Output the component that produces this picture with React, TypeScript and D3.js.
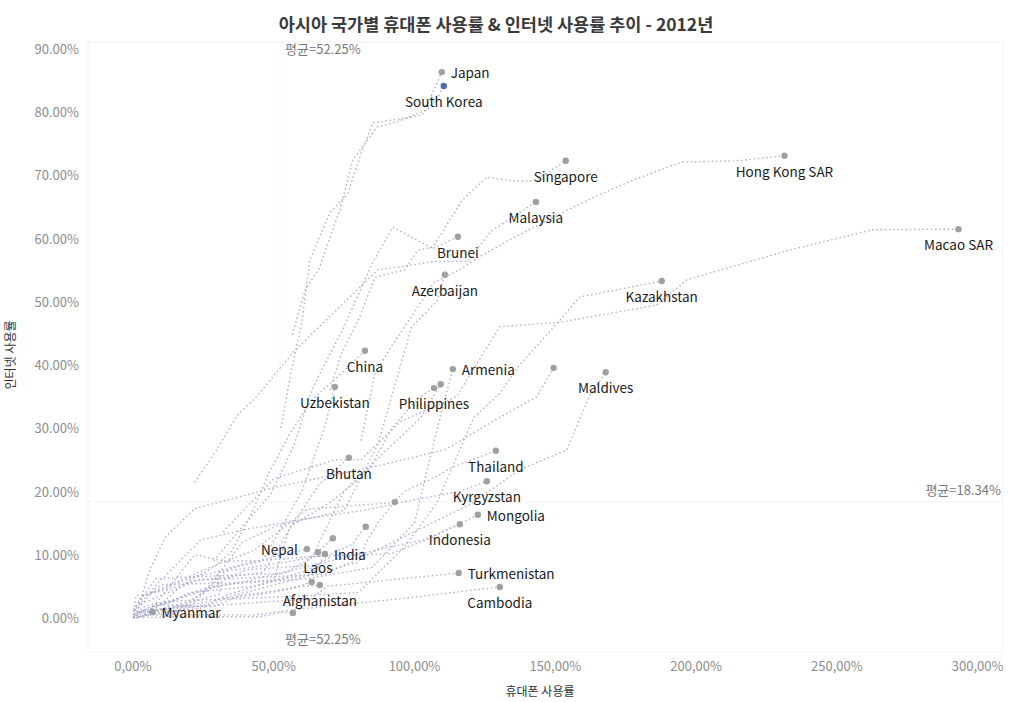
import React from "react";
import * as d3 from "d3";

// ---- data: [mobile %, internet %] trail per country, last point = 2012 ----
const countries = [
  "Japan", "South Korea", "Singapore", "Hong Kong SAR", "Malaysia", "Macao SAR",
  "Brunei", "Azerbaijan", "Kazakhstan", "China", "Armenia", "Vietnam", "Maldives",
  "Uzbekistan", "Philippines", "Georgia", "Bhutan", "Thailand", "Kyrgyzstan",
  "Sri Lanka", "Mongolia", "Indonesia", "Tajikistan", "Pakistan", "Nepal", "Laos",
  "India", "Bangladesh", "Afghanistan", "Timor-Leste", "Turkmenistan", "Cambodia", "Myanmar",
];

const labelled = [
  true, true, true, true, true, true,
  true, true, true, true, true, false, true,
  true, true, false, true, true, true,
  false, true, true, false, false, true, true,
  true, false, true, false, true, true, true,
];

const trails: number[][][] = [
  [[52.6, 30], [56, 38.5], [60, 46.6], [62.8, 56.5], [70, 64], [76.3, 67], [80.6, 72.8], [85.2, 78.2], [95, 78.8], [102.9, 79.4], [109.7, 86.2]],
  [[56.6, 44.7], [61.3, 52], [66, 55], [69.9, 60], [73.5, 64.4], [78.1, 72.3], [86.6, 77.5], [94.7, 78.5], [97.3, 79], [104.4, 80.2], [108, 82], [110.4, 84.0]],
  [[70, 36], [74, 41.7], [80, 47], [86, 53.8], [96.6, 55], [101, 58], [106.5, 58.6], [117, 66], [125.7, 69.6], [135, 69], [142, 69], [148, 70.5], [153.7, 72.2]],
  [[81, 28], [86, 38.7], [92, 43], [107, 53], [116, 55], [123, 57], [135, 60], [156, 64.8], [165, 66.7], [179, 69.4], [195, 72], [215, 72.2], [231.4, 73.0]],
  [[21.9, 21.4], [30, 26.7], [37, 32], [44, 35], [57, 42], [75, 49.8], [87, 55], [100, 55.8], [107, 56.3], [119, 56.3], [127, 61], [143.1, 65.7]],
  [[32, 13.6], [50, 22], [72, 25], [81, 25], [95, 31], [115, 35], [130.3, 46], [151.6, 46.7], [186, 49.4], [196.7, 53.4], [233.2, 58.1], [262.7, 61.3], [293.2, 61.4]],
  [[28.6, 9], [40, 15], [49, 19.6], [57, 27], [64, 36.5], [75, 46], [85, 56], [92.3, 61.7], [106.5, 58.3], [115.4, 60.2]],
  [[12.8, 0.2], [17, 1.5], [22, 3], [27, 5], [39, 12], [51, 14.5], [75, 17], [87, 27.4], [99, 46], [108, 50], [110.8, 54.2]],
  [[1.3, 0.7], [6, 1.7], [16, 2.7], [51, 3.3], [80, 4], [96, 11], [108, 18.2], [121, 31.6], [130.3, 35.5], [137.4, 40], [151.6, 47], [158.7, 50.7], [187.8, 53.2]],
  [[6.7, 1.8], [11, 2.6], [16, 4.6], [21, 6.2], [26, 7.3], [30, 8.5], [35, 10.5], [41.6, 16], [48, 22.6], [55.5, 28.9], [63.2, 34.3], [73.2, 38.3], [82.4, 42.2]],
  [[0.5, 1.3], [2, 1.6], [8, 4.6], [10.5, 5.3], [42, 5.6], [62, 6.2], [85, 8], [100, 15], [107, 28], [113.6, 39.3]],
  [[1, 0.3], [6, 7.6], [11.4, 12.7], [22, 17.3], [52, 20.8], [86, 23.9], [111, 26.6], [130.3, 31.7], [143.4, 34.9], [149.4, 39.5]],
  [[2.8, 2.2], [23, 6], [68, 6.9], [88, 11], [120, 18], [137.4, 23.4], [154, 26.5], [162, 34.9], [167.9, 38.8]],
  [[0.2, 0.5], [1.2, 1.9], [2.8, 3.3], [9, 4.3], [21, 6.4], [46, 9], [60, 20], [68, 30], [71.7, 36.5]],
  [[8.4, 2], [14, 2.8], [27, 4.9], [41, 5.7], [50, 6], [55.7, 14.4], [69.9, 18.2], [83.1, 22.9], [92.3, 30.2], [101.9, 34.9], [106.9, 36.3]],
  [[4, 0.5], [11, 1.6], [19, 2.5], [25, 3.9], [33, 6.1], [40, 7.6], [60, 8.2], [64, 10], [75, 20], [91, 26.9], [102, 31.5], [109.3, 36.9]],
  [[0.1, 0.4], [1.1, 3.5], [5.5, 3.8], [12.6, 4.5], [21.9, 5.9], [36, 6.6], [46.3, 7.2], [55, 13.6], [66, 21], [76.7, 25.3]],
  [[4.9, 3.7], [27, 7.9], [43, 10.7], [62, 17.2], [92, 18.2], [97, 20.1], [108, 22.4], [113, 23.7], [128.9, 26.4]],
  [[0.2, 1], [8, 5.1], [24, 12.3], [40, 14], [62, 15.7], [82, 17], [97, 18.4], [116, 20], [125.7, 21.6]],
  [[2.3, 0.6], [11.4, 1.4], [26, 2.5], [39, 3.9], [55, 5.8], [80, 8.8], [83, 12], [87, 15], [93.0, 18.3]],
  [[6.4, 1.3], [22, 10], [32, 9], [44, 9], [66, 9.8], [84, 10], [92, 10.2], [105, 12.5], [122.5, 16.3]],
  [[1.7, 0.9], [13.5, 2.6], [28, 4.8], [40, 5.8], [59.8, 7.9], [69, 8.9], [88, 10.9], [103, 12.3], [116.1, 14.8]],
  [[0.1, 0.1], [2, 0.1], [31, 3.8], [30, 7.2], [54, 8.8], [70, 10.1], [78, 11.6], [80, 13], [82.7, 14.4]],
  [[0.2, 1.3], [8, 6.2], [22, 6.5], [38, 6.8], [53, 7], [56, 7.5], [57, 8], [62, 9], [71.0, 12.6]],
  [[0.1, 0.2], [1.2, 0.5], [4.6, 1.1], [12, 1.4], [15, 1.7], [21, 2], [34, 7.9], [44, 9], [61.8, 10.9]],
  [[0.2, 0.1], [3.5, 0.4], [17, 1.2], [25, 1.6], [33, 3.6], [51, 6], [64, 7], [67, 9], [65.7, 10.4]],
  [[0.3, 0.5], [4.7, 2], [14.5, 2.8], [20, 4], [29, 4.4], [44, 5.1], [62, 7.5], [70, 9.6], [68.2, 10.1]],
  [[0.2, 0.1], [2, 0.2], [13, 1], [22, 1.8], [30, 2.5], [33, 3.1], [45, 3.7], [55, 4.5], [63.5, 5.7]],
  [[0.1, 0], [2.5, 0.1], [10, 2.1], [18, 1.9], [29, 1.8], [38, 3.6], [46, 4], [60, 5], [66.4, 5.2]],
  [[2, 0.1], [3, 0.1], [8, 0.1], [12, 0.2], [31, 0.2], [45, 0.2], [53, 0.9], [56.8, 0.8]],
  [[0.2, 0.1], [1, 0.8], [4.5, 1.3], [7.5, 1.4], [23, 1.8], [29, 2], [63, 3], [69, 5], [115.7, 7.1]],
  [[1, 0], [3, 0.3], [8, 0.5], [18, 0.5], [30, 0.5], [44, 0.5], [57, 1.3], [96, 3.1], [130.3, 4.9]],
  [[0, 0], [0.3, 0.1], [1, 0.2], [1.2, 0.25], [2.6, 1], [7.0, 1.0]],
];

const highlighted = "South Korea";
const meanMobile = 52.25;
const meanInternet = 18.34;
const xTicks = [0, 50, 100, 150, 200, 250, 300];
const yTicks = [0, 10, 20, 30, 40, 50, 60, 70, 80, 90];

// label placement (style only): r = right, b = below, l = left
const labelSide: Record<string, string> = {
  Japan: "r", "South Korea": "b", Singapore: "b", "Hong Kong SAR": "b", Malaysia: "b",
  "Macao SAR": "b", Brunei: "b", Azerbaijan: "b", Kazakhstan: "b", China: "b",
  Armenia: "r", Maldives: "b", Uzbekistan: "b", Philippines: "b", Bhutan: "b",
  Thailand: "b", Kyrgyzstan: "b", Mongolia: "r", Indonesia: "b", Nepal: "l",
  Laos: "b", India: "r", Afghanistan: "b", Turkmenistan: "r", Cambodia: "b", Myanmar: "r",
};

const FONT = "'Noto Sans CJK KR', 'Noto Sans', sans-serif";

export default function App() {
  const W = 1010, H = 702;
  const left = 88, right = 1003, top = 42, bottom = 652;
  const x = d3.scaleLinear().domain([-15.95, 309]).range([left, right]);
  const y = d3.scaleLinear().domain([-5.37, 90.95]).range([bottom, top]);
  const line = d3.line<number[]>().x((d) => x(d[0])).y((d) => y(d[1]));
  const fmtY = (v: number) => d3.format(".2f")(v) + "%";
  const fmtX = (v: number) => d3.format(".2f")(v).replace(".", ",") + "%";

  return (
    <svg width={W} height={H} style={{ position: "absolute", left: 0, top: 0, background: "#fff" }} fontFamily={FONT}>
      <text x={496} y={23} textAnchor="middle" dominantBaseline="central" fontSize={17.5} fontWeight={700} fill="#3a3a3a">
        아시아 국가별 휴대폰 사용률 &amp; 인터넷 사용률 추이 - 2012년
      </text>
      <rect x={left} y={top} width={right - left} height={bottom - top} fill="none" stroke="#f2f2f2" />
      {/* reference lines */}
      <line x1={x(meanMobile)} x2={x(meanMobile)} y1={top} y2={bottom} stroke="#f7f7f7" />
      <line x1={left} x2={right} y1={y(meanInternet)} y2={y(meanInternet)} stroke="#f4f4f4" />
      <text x={x(meanMobile) + 5} y={48} dominantBaseline="central" fontSize={13} fill="#7a7a7a">평균=52.25%</text>
      <text x={x(meanMobile) + 5} y={638} dominantBaseline="central" fontSize={13} fill="#7a7a7a">평균=52.25%</text>
      <text x={1001} y={y(meanInternet) - 12} textAnchor="end" dominantBaseline="central" fontSize={13} fill="#7a7a7a">평균=18.34%</text>

      {/* axes */}
      {yTicks.map((t) => (
        <text key={"y" + t} x={79} y={y(t)} textAnchor="end" dominantBaseline="central" fontSize={13} fill="#8d8d8d">{fmtY(t)}</text>
      ))}
      {xTicks.map((t) => (
        <text key={"x" + t} x={x(t)} y={665} textAnchor="middle" dominantBaseline="central" fontSize={13} fill="#8d8d8d">{fmtX(t)}</text>
      ))}
      <text x={540} y={690} textAnchor="middle" dominantBaseline="central" fontSize={12} fill="#333">휴대폰 사용률</text>
      <text transform={`translate(9,355) rotate(-90)`} textAnchor="middle" dominantBaseline="central" fontSize={12} fill="#333">인터넷 사용률</text>

      {/* trails */}
      {trails.map((t, i) => (
        <path key={"t" + i} d={line(t) || ""} fill="none" stroke="#a4a7c6" strokeOpacity={0.85} strokeWidth={1.4} strokeDasharray="1.6,2.6" />
      ))}
      {/* 2012 points */}
      {trails.map((t, i) => {
        const p = t[t.length - 1];
        return (
          <circle key={"c" + i} cx={x(p[0])} cy={y(p[1])} r={3.2}
            fill={countries[i] === highlighted ? "#4a6db2" : "#a0a0a0"} />
        );
      })}
      {/* labels */}
      {trails.map((t, i) => {
        if (!labelled[i]) return null;
        const p = t[t.length - 1];
        const side = labelSide[countries[i]] || "b";
        const cx = x(p[0]), cy = y(p[1]);
        const props =
          side === "r" ? { x: cx + 9, y: cy, textAnchor: "start" } :
          side === "l" ? { x: cx - 9, y: cy, textAnchor: "end" } :
          { x: cx, y: cy + 15, textAnchor: "middle" };
        return (
          <text key={"l" + i} {...props} dominantBaseline="central" fontSize={13.5} fill="#1a1a1a">{countries[i]}</text>
        );
      })}
    </svg>
  );
}
